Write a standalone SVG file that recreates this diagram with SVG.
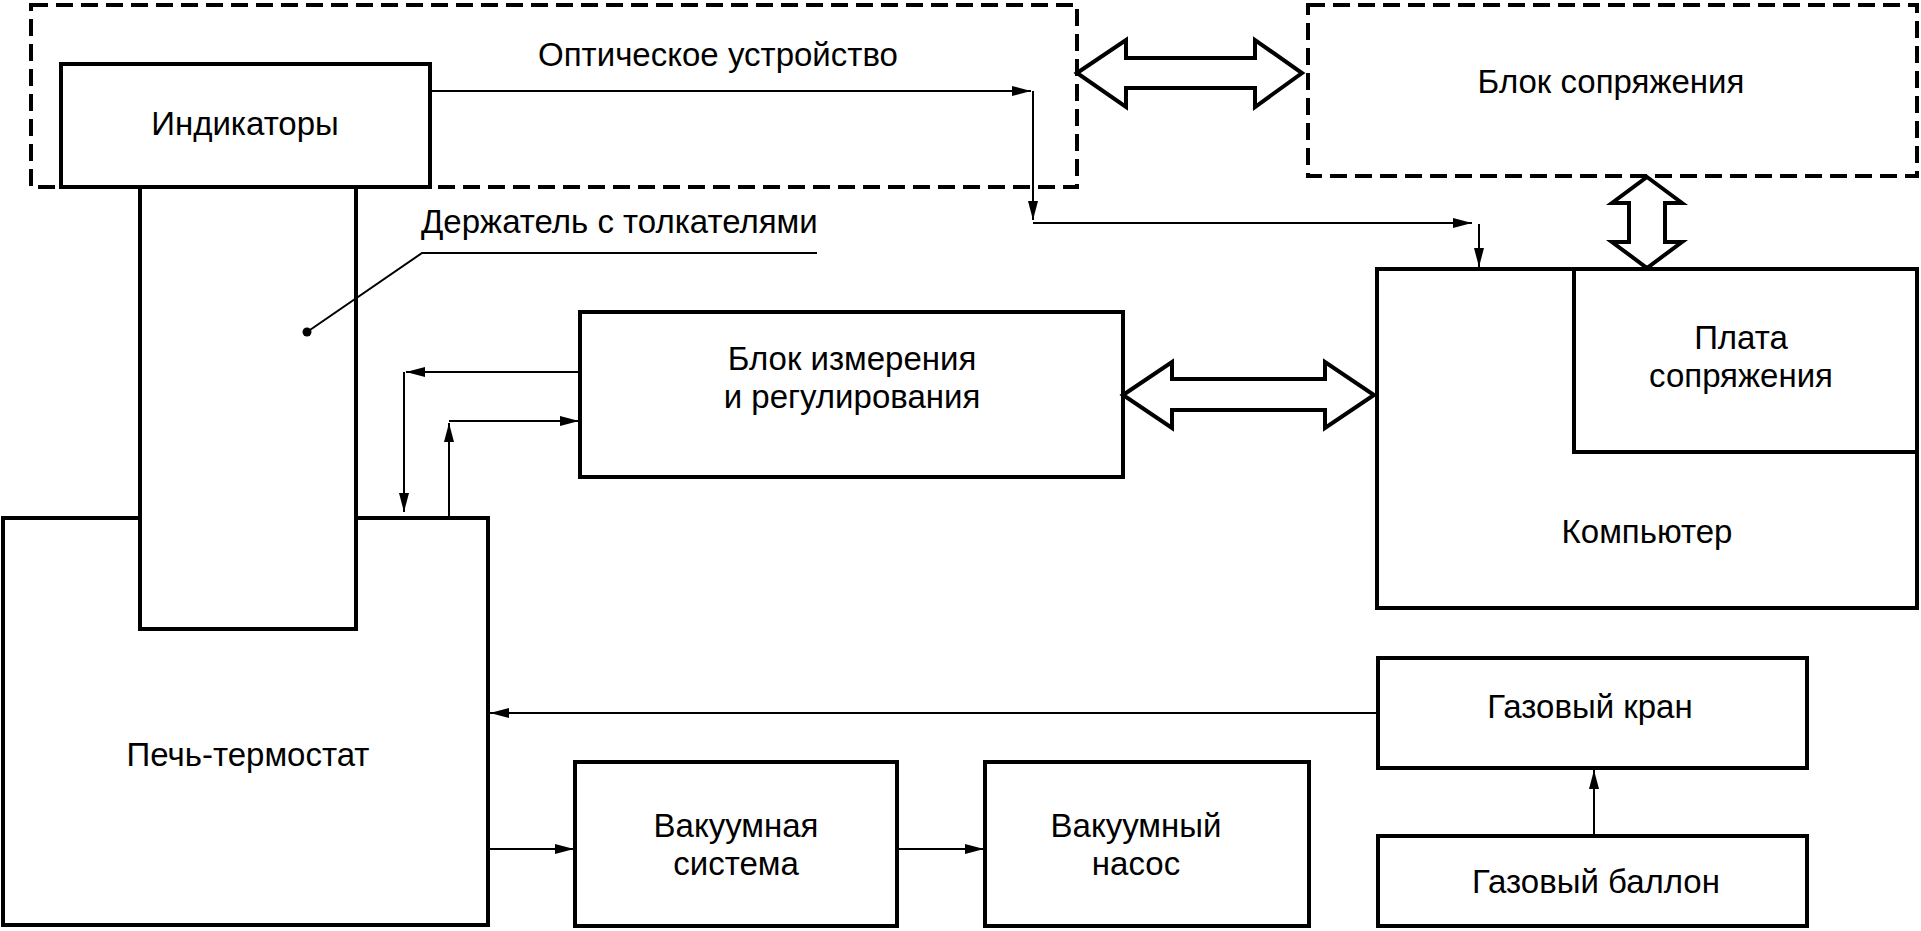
<svg xmlns="http://www.w3.org/2000/svg" width="1921" height="931" viewBox="0 0 1921 931">
<style>
.box{fill:none;stroke:#000;stroke-width:4}
.dash{fill:none;stroke:#000;stroke-width:4;stroke-dasharray:17 8}
.ln{fill:none;stroke:#000;stroke-width:2}
.big{fill:#fff;stroke:#000;stroke-width:4;stroke-linejoin:miter}
text{font-family:"Liberation Sans",Arial,sans-serif;font-size:33px;fill:#000}
.c{text-anchor:middle}
</style>
<defs>
<marker id="ah" markerUnits="userSpaceOnUse" markerWidth="20" markerHeight="12" refX="19" refY="5" orient="auto">
<path d="M0,0 L19,5 L0,10 Z" fill="#000"/>
</marker>
</defs>
<rect width="1921" height="931" fill="#fff"/>

<g id="optical">
<rect class="dash" x="31" y="5" width="1046" height="182"/>
<text class="c" x="718" y="66">Оптическое устройство</text>
</g>
<g id="interface-block">
<rect class="dash" x="1308" y="5" width="609" height="171"/>
<text class="c" x="1611" y="93">Блок сопряжения</text>
</g>
<g id="indicators">
<rect class="box" x="61" y="64" width="369" height="123" fill="#fff"/>
<text class="c" x="245" y="135">Индикаторы</text>
</g>
<g id="furnace">
<path class="box" d="M140,518 H3 V925 H488 V518 H356"/>
<text class="c" x="248" y="766">Печь-термостат</text>
</g>
<g id="holder">
<rect class="box" x="140" y="187" width="216" height="442"/>
<path class="ln" d="M307,332 L422,253 H817"/>
<circle cx="307" cy="332" r="4.5" fill="#000"/>
<text x="421" y="233">Держатель с толкателями</text>
</g>
<g id="measure">
<rect class="box" x="580" y="312" width="543" height="165"/>
<text class="c" x="852" y="370">Блок измерения</text>
<text class="c" x="852" y="408">и регулирования</text>
</g>
<g id="computer">
<rect class="box" x="1377" y="269" width="540" height="339"/>
<path class="box" d="M1574,269 V452 H1917"/>
<text class="c" x="1741" y="349">Плата</text>
<text class="c" x="1741" y="387">сопряжения</text>
<text class="c" x="1647" y="543">Компьютер</text>
</g>
<g id="gas-valve">
<rect class="box" x="1378" y="658" width="429" height="110"/>
<text class="c" x="1590" y="718">Газовый кран</text>
</g>
<g id="gas-cylinder">
<rect class="box" x="1378" y="836" width="429" height="90"/>
<text class="c" x="1596" y="893">Газовый баллон</text>
</g>
<g id="vacuum-system">
<rect class="box" x="575" y="762" width="322" height="164"/>
<text class="c" x="736" y="837">Вакуумная</text>
<text class="c" x="736" y="875">система</text>
</g>
<g id="vacuum-pump">
<rect class="box" x="985" y="762" width="324" height="164"/>
<text class="c" x="1136" y="837">Вакуумный</text>
<text class="c" x="1136" y="875">насос</text>
</g>

<g id="connectors">
<path class="ln" d="M430,91 H1031" marker-end="url(#ah)"/>
<path class="ln" d="M1033,91 V220" marker-end="url(#ah)"/>
<path class="ln" d="M1033,223 H1472" marker-end="url(#ah)"/>
<path class="ln" d="M1479,224 V267" marker-end="url(#ah)"/>
<path class="ln" d="M580,372 H406" marker-end="url(#ah)"/>
<path class="ln" d="M404,372 V512" marker-end="url(#ah)"/>
<path class="ln" d="M449,518 V423" marker-end="url(#ah)"/>
<path class="ln" d="M449,421 H579" marker-end="url(#ah)"/>
<path class="ln" d="M1378,713 H490" marker-end="url(#ah)"/>
<path class="ln" d="M488,849 H574" marker-end="url(#ah)"/>
<path class="ln" d="M897,849 H984" marker-end="url(#ah)"/>
<path class="ln" d="M1594,836 V770" marker-end="url(#ah)"/>
<polygon class="big" points="1077,73 1126,40 1126,58 1255,58 1255,40 1302,73 1255,107 1255,88 1126,88 1126,107"/>
<polygon class="big" points="1123,395 1172,362 1172,379 1325,379 1325,362 1374,395 1325,428 1325,410 1172,410 1172,428"/>
<polygon class="big" points="1647,177 1682,203 1665,203 1665,242 1682,242 1647,268 1612,242 1629,242 1629,203 1612,203"/>
</g>
</svg>
